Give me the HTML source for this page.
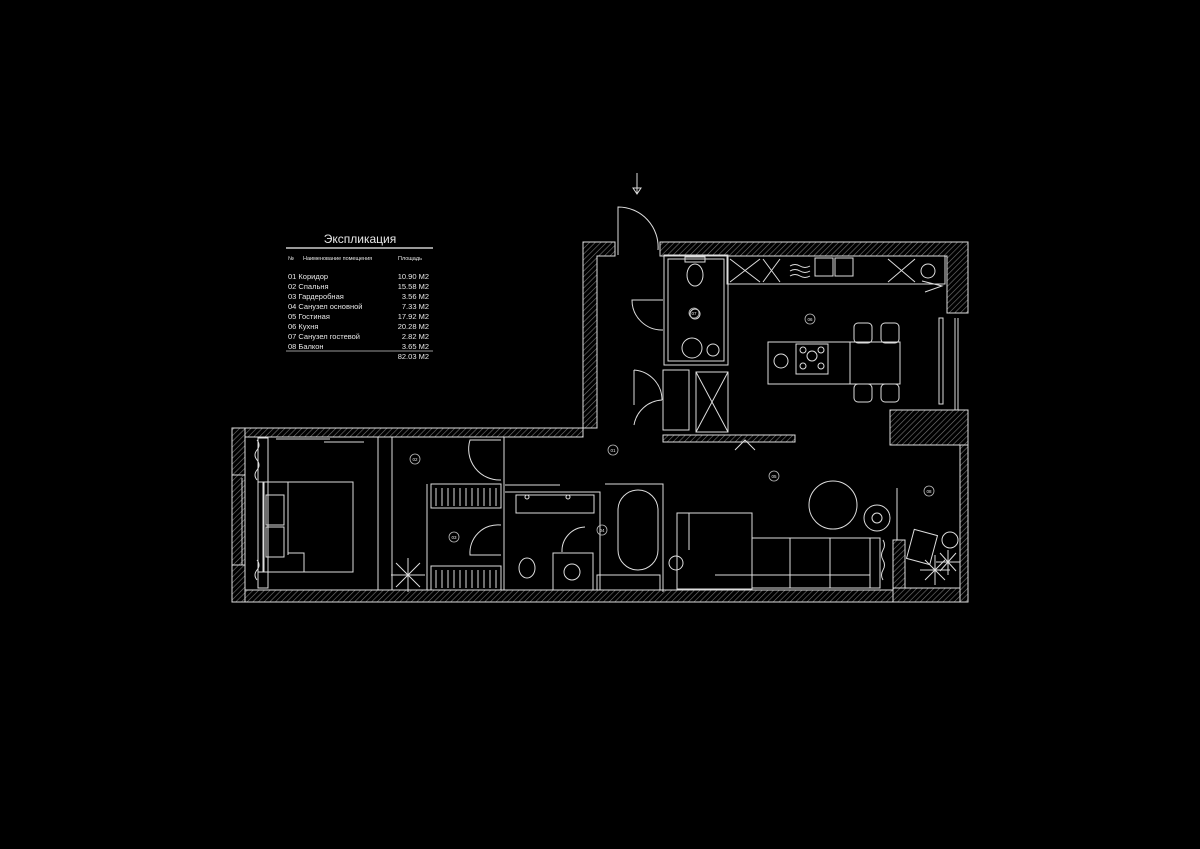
<!DOCTYPE html>
<html><head><meta charset="utf-8"><style>
html,body{margin:0;padding:0;background:#000;width:1200px;height:849px;overflow:hidden}
svg{display:block}
text{font-family:"Liberation Sans","DejaVu Sans",sans-serif;fill:#e8e8e8}
</style></head><body>
<svg width="1200" height="849" viewBox="0 0 1200 849">
<defs>
<pattern id="h" width="4" height="4" patternUnits="userSpaceOnUse" patternTransform="rotate(45)">
<rect width="4" height="4" fill="#000"/><line x1="0" y1="0" x2="0" y2="4" stroke="#777" stroke-width="1.2"/></pattern>
</defs>
<text x="360" y="243" font-size="12" text-anchor="middle">Экспликация</text>
<line x1="286" y1="248" x2="433" y2="248" stroke="#ccc" stroke-width="1.5"/>
<g font-size="5.5"><text x="288" y="260">№</text><text x="303" y="260">Наименование помещения</text><text x="398" y="260">Площадь</text></g>
<g font-size="7.5">
<text x="288" y="279">01 Коридор</text><text x="429" y="279" text-anchor="end">10.90 М2</text>
<text x="288" y="289">02 Спальня</text><text x="429" y="289" text-anchor="end">15.58 М2</text>
<text x="288" y="299">03 Гардеробная</text><text x="429" y="299" text-anchor="end">3.56 М2</text>
<text x="288" y="309">04 Санузел основной</text><text x="429" y="309" text-anchor="end">7.33 М2</text>
<text x="288" y="319">05 Гостиная</text><text x="429" y="319" text-anchor="end">17.92 М2</text>
<text x="288" y="329">06 Кухня</text><text x="429" y="329" text-anchor="end">20.28 М2</text>
<text x="288" y="339">07 Санузел гостевой</text><text x="429" y="339" text-anchor="end">2.82 М2</text>
<text x="288" y="349">08 Балкон</text><text x="429" y="349" text-anchor="end">3.65 М2</text>
<text x="429" y="359" text-anchor="end">82.03 М2</text></g>
<line x1="286" y1="351" x2="433" y2="351" stroke="#ccc" stroke-width="0.8"/>

<g stroke="#ddd" fill="none" stroke-width="1">
<line x1="637" y1="173" x2="637" y2="193"/><path d="M633 188 L637 194 L641 188 Z"/>
<path d="M618 255 V207 A40 40 0 0 1 658 250"/>
</g>

<g fill="url(#h)" stroke="#ddd" stroke-width="1">
<path d="M583 242 H615 V256 H597 V428 H583 Z"/>
<path d="M660 242 H968 V313 H947 V256 H660 Z"/>
<path d="M890 410 H968 V445 H890 V433 H890 Z"/>
<path d="M583 428 V437 H245 V590 H893 V602 H232 V428 Z"/>
<path d="M232 428 H245 V475 H232 Z"/>
<path d="M232 565 H245 V602 H232 Z"/>
<path d="M893 588 H968 V602 H893 Z"/>
<path d="M960 445 H968 V602 H960 Z"/>
<path d="M663 435 H795 V442 H663 Z"/>
<path d="M893 540 H905 V588 H893 Z"/>
</g>
<g stroke="#ddd" fill="none" stroke-width="1">
<rect x="664" y="255" width="64" height="110"/>
<rect x="668" y="259" width="56" height="102"/>
<ellipse cx="695" cy="275" rx="8" ry="11"/><rect x="685" y="257" width="20" height="5"/>
<circle cx="695" cy="314" r="5"/>
<circle cx="692" cy="348" r="10"/><circle cx="713" cy="350" r="6"/>
<path d="M663 300 H632 A30 30 0 0 0 663 330"/>
<path d="M634 370 V405 M634 370 A30 30 0 0 1 662 400 M634 425 A30 30 0 0 1 662 400"/>
<rect x="663" y="370" width="26" height="60"/>
<rect x="696" y="372" width="32" height="60"/>
<path d="M696 372 L728 432 M728 372 L696 432"/>
<rect x="727" y="256" width="218" height="28"/>
<path d="M730 259 L760 282 M760 259 L730 282 M763 259 L780 282 M780 259 L763 282 M888 259 L915 282 M915 259 L888 282"/>
<path d="M790 266 q5 -3 10 0 t10 0 M790 271 q5 -3 10 0 t10 0 M790 276 q5 -3 10 0 t10 0"/>
<rect x="815" y="258" width="18" height="18"/><rect x="835" y="258" width="18" height="18"/>
<circle cx="928" cy="271" r="7"/>
<path d="M922 281 L942 286 L925 292"/>
<rect x="768" y="342" width="132" height="42"/>
<line x1="850" y1="342" x2="850" y2="384"/>
<rect x="796" y="344" width="32" height="30"/>
<circle cx="812" cy="356" r="5"/><circle cx="803" cy="350" r="3"/><circle cx="821" cy="350" r="3"/><circle cx="803" cy="366" r="3"/><circle cx="821" cy="366" r="3"/>
<circle cx="781" cy="361" r="7"/>
<rect x="854" y="323" width="18" height="20" rx="4"/><rect x="881" y="323" width="18" height="20" rx="4"/>
<rect x="854" y="384" width="18" height="18" rx="4"/><rect x="881" y="384" width="18" height="18" rx="4"/>
<rect x="939" y="318" width="4" height="86"/>
<line x1="955" y1="318" x2="955" y2="410"/><line x1="958" y1="318" x2="958" y2="410"/>
<rect x="258" y="438" width="10" height="150" />
<path d="M257 440 q4 5 0 10 t0 10 t0 10 t0 10 M257 560 q4 5 0 10 t0 10"/>
<rect x="258" y="482" width="6" height="90"/>
<rect x="263" y="482" width="90" height="90"/>
<rect x="266" y="495" width="18" height="30"/><rect x="266" y="527" width="18" height="30"/>
<line x1="288" y1="482" x2="288" y2="555"/><path d="M288 553 H304 V572"/>
<line x1="276" y1="439" x2="330" y2="439"/><line x1="324" y1="442" x2="364" y2="442"/>
<line x1="378" y1="437" x2="378" y2="590"/><line x1="392" y1="437" x2="392" y2="590"/>
<line x1="245" y1="475" x2="245" y2="565"/><line x1="242" y1="478" x2="242" y2="565"/>
<rect x="431" y="484" width="70" height="24"/><rect x="431" y="566" width="70" height="24"/>
<path d="M436 488 v18 M442 488 v18 M448 488 v18 M454 488 v18 M460 488 v18 M466 488 v18 M472 488 v18 M478 488 v18 M484 488 v18 M490 488 v18 M496 488 v18"/>
<path d="M436 570 v18 M442 570 v18 M448 570 v18 M454 570 v18 M460 570 v18 M466 570 v18 M472 570 v18 M478 570 v18 M484 570 v18 M490 570 v18 M496 570 v18"/>
<line x1="427" y1="484" x2="427" y2="590"/>
<path d="M501 440 H470 A31 31 0 0 0 501 480"/>
<path d="M501 525 A28 28 0 0 0 470 555 H501"/>
<line x1="504" y1="437" x2="504" y2="590"/>
<path d="M505 485 H560 M505 492 H600 V590"/>
<rect x="516" y="495" width="78" height="18"/>
<circle cx="527" cy="497" r="2"/><circle cx="568" cy="497" r="2"/>
<path d="M585 527 A24 24 0 0 0 562 552"/><rect x="553" y="553" width="40" height="37"/>
<circle cx="572" cy="572" r="8"/>
<ellipse cx="527" cy="568" rx="8" ry="10"/>
<path d="M605 484 H663 V592"/>
<rect x="618" y="490" width="40" height="80" rx="20"/>
<path d="M597 575 L660 575 L660 590 L597 590 Z"/>
<rect x="677" y="513" width="75" height="76"/><line x1="689" y1="513" x2="689" y2="550"/>
<rect x="752" y="538" width="128" height="50"/>
<path d="M790 538 V588 M830 538 V588 M870 538 V588 M715 575 H870"/>
<circle cx="833" cy="505" r="24"/><circle cx="877" cy="518" r="13"/><circle cx="877" cy="518" r="5"/>
<circle cx="676" cy="563" r="7"/>
<path d="M883 540 q3 5 0 10 t0 10 t0 10 t0 10"/>
<line x1="897" y1="488" x2="897" y2="540"/>
<rect x="910" y="532" width="24" height="30" transform="rotate(15 922 547)"/>
<circle cx="950" cy="540" r="8"/>
</g>
<g stroke="#ddd" stroke-width="1">
<path d="M408 558 L408 592 M391 575 L425 575 M396 563 L420 587 M420 563 L396 587"/>
<path d="M935 555 L935 585 M920 570 L950 570 M925 560 L945 580 M945 560 L925 580"/>
<path d="M948 550 L948 575 M936 562 L960 562 M940 553 L956 571 M956 553 L940 571"/>
</g>
<g fill="none" stroke="#bbb" stroke-width="0.8">
<circle cx="694" cy="313" r="5"/><circle cx="810" cy="319" r="5"/><circle cx="613" cy="450" r="5"/>
<circle cx="415" cy="459" r="5"/><circle cx="454" cy="537" r="5"/><circle cx="602" cy="530" r="5"/>
<circle cx="774" cy="476" r="5"/><circle cx="929" cy="491" r="5"/>
</g>
<g font-size="4.5" text-anchor="middle">
<text x="694" y="315">07</text><text x="810" y="321">06</text><text x="613" y="452">01</text>
<text x="415" y="461">02</text><text x="454" y="539">03</text><text x="602" y="532">04</text>
<text x="774" y="478">05</text><text x="929" y="493">08</text>
</g>
<path d="M735 450 L745 440 L755 450" stroke="#ddd" fill="none"/>
</svg>
</body></html>
